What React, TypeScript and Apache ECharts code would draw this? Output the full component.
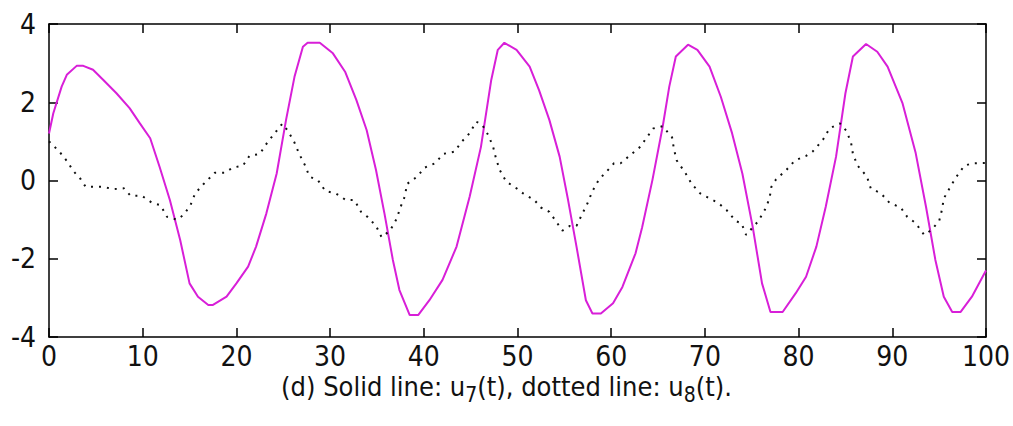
import React, { useEffect, useRef } from "react";
import * as echarts from "echarts";

const xTicks = [0, 10, 20, 30, 40, 50, 60, 70, 80, 90, 100];
const yTicks = [-4, -2, 0, 2, 4];

// u7(t): solid magenta line
const u7T = [0, 0.46, 1.35, 1.9, 2.95, 3.66, 4.7, 5.8, 7.2, 8.6, 9.7, 10.8, 11.8, 12.9, 14.0, 15.0, 15.9, 17.0, 17.5, 18.95, 20.0, 21.25, 22.1, 23.2, 24.3, 25.3, 26.2, 27.1, 27.6, 28.9, 30.3, 31.6, 32.8, 33.9, 34.9, 35.8, 36.7, 37.4, 38.5, 39.4, 40.6, 42.0, 43.5, 44.9, 46.1, 47.2, 47.9, 48.6, 49.9, 51.3, 52.3, 53.4, 54.5, 55.4, 56.3, 57.3, 58.0, 58.9, 60.2, 61.2, 62.6, 63.3, 64.4, 65.5, 66.2, 66.9, 68.2, 69.2, 70.5, 71.7, 72.9, 74.0, 75.1, 76.1, 77.0, 78.3, 79.7, 80.8, 81.9, 82.9, 84.0, 85.0, 85.8, 87.2, 88.4, 89.5, 91.1, 92.5, 93.6, 94.6, 95.5, 96.4, 97.3, 98.5, 100];
const u7V = [1.2, 1.72, 2.4, 2.7, 2.93, 2.93, 2.83, 2.57, 2.23, 1.85, 1.46, 1.08, 0.35, -0.5, -1.52, -2.63, -2.97, -3.18, -3.18, -2.97, -2.63, -2.2, -1.69, -0.84, 0.18, 1.55, 2.65, 3.42, 3.52, 3.52, 3.25, 2.78, 2.06, 1.29, 0.27, -0.84, -2.03, -2.8, -3.44, -3.44, -3.06, -2.54, -1.69, -0.41, 0.86, 2.57, 3.34, 3.52, 3.34, 2.91, 2.31, 1.55, 0.61, -0.5, -1.69, -3.06, -3.4, -3.4, -3.14, -2.72, -1.86, -1.2, 0.01, 1.38, 2.4, 3.17, 3.47, 3.34, 2.91, 2.14, 1.21, 0.18, -1.18, -2.63, -3.36, -3.36, -2.88, -2.46, -1.69, -0.67, 0.61, 2.23, 3.17, 3.49, 3.29, 2.91, 1.97, 0.7, -0.67, -2.03, -2.97, -3.36, -3.36, -2.97, -2.3];

// u8(t): dotted black line
const u8T = [0, 1.1, 2.1, 2.5, 3.4, 3.9, 5.7, 6.9, 8.0, 8.7, 9.9, 11.0, 11.9, 12.6, 13.7, 14.4, 15.1, 15.6, 16.5, 17.7, 18.8, 19.6, 20.7, 21.4, 22.5, 23.3, 24.1, 24.9, 25.5, 26.2, 26.7, 27.3, 27.8, 28.7, 29.5, 30.6, 31.7, 32.6, 33.3, 34.0, 34.9, 35.5, 36.4, 37.1, 37.5, 38.0, 38.2, 39.3, 40.1, 41.2, 42.1, 43.3, 44.0, 44.9, 45.6, 46.2, 46.9, 47.4, 47.7, 48.1, 48.8, 49.9, 50.6, 51.8, 52.5, 53.4, 54.1, 54.8, 55.6, 56.3, 56.9, 57.5, 58.0, 58.7, 59.4, 60.3, 61.0, 62.2, 63.1, 63.8, 64.5, 65.5, 66.5, 66.7, 67.0, 67.9, 68.6, 69.5, 70.5, 71.4, 72.3, 73.3, 73.9, 74.4, 75.7, 76.4, 76.9, 77.1, 77.6, 78.7, 79.6, 80.8, 81.5, 82.6, 83.3, 84.4, 85.1, 85.6, 85.8, 86.3, 87.3, 87.7, 88.8, 89.7, 90.9, 91.6, 92.5, 93.4, 94.1, 95.0, 95.3, 95.5, 96.2, 96.8, 97.7, 98.6, 100];
const u8V = [1.0, 0.74, 0.44, 0.27, 0.03, -0.16, -0.16, -0.22, -0.2, -0.39, -0.39, -0.57, -0.63, -0.93, -1.0, -0.87, -0.63, -0.33, -0.09, 0.2, 0.2, 0.33, 0.38, 0.63, 0.68, 0.97, 1.21, 1.45, 1.27, 0.97, 0.68, 0.4, 0.1, 0.01, -0.27, -0.33, -0.5, -0.5, -0.8, -0.93, -1.16, -1.45, -1.28, -0.98, -0.69, -0.39, -0.09, 0.1, 0.33, 0.44, 0.68, 0.74, 0.98, 1.21, 1.5, 1.44, 1.15, 0.86, 0.57, 0.27, -0.03, -0.2, -0.33, -0.5, -0.69, -0.8, -1.04, -1.28, -1.16, -1.16, -0.86, -0.57, -0.27, 0.03, 0.2, 0.44, 0.44, 0.68, 0.86, 1.1, 1.33, 1.39, 1.1, 0.8, 0.51, 0.2, -0.09, -0.33, -0.46, -0.57, -0.75, -1.04, -1.09, -1.39, -1.04, -0.75, -0.46, -0.16, 0.03, 0.27, 0.51, 0.63, 0.74, 1.04, 1.33, 1.46, 1.27, 0.97, 0.68, 0.38, 0.1, -0.2, -0.33, -0.57, -0.69, -0.93, -1.09, -1.39, -1.28, -1.04, -0.75, -0.46, -0.16, 0.08, 0.38, 0.44, 0.45];

const caption = "(d) Solid line: u{sub|7}(t), dotted line: u{sub|8}(t).";

const FONT = "'Liberation Sans Narrow', 'DejaVu Sans Condensed', 'Liberation Sans', sans-serif";

export default function App() {
  const ref = useRef<HTMLDivElement>(null);
  useEffect(() => {
    if (!ref.current) return;
    const chart = echarts.init(ref.current, null, { renderer: "svg" });
    const axisLine = { show: true, onZero: false, lineStyle: { color: "#000", width: 1.5 } };
    const axisTick = { show: true, inside: true, length: 9, lineStyle: { color: "#000", width: 1.5 } };
    const label = { color: "#111", fontFamily: FONT, fontSize: 28 };
    chart.setOption({
      animation: false,
      backgroundColor: "#fff",
      grid: { left: 49, right: 26, top: 24, bottom: 89, containLabel: false },
      xAxis: [
        {
          type: "value", min: 0, max: 100, interval: 10, position: "bottom",
          axisLine, axisTick, splitLine: { show: false },
          axisLabel: { ...label, margin: 5, formatter: (v: number) => (xTicks.includes(v) ? String(v) : "") },
        },
        {
          type: "value", min: 0, max: 100, interval: 10, position: "top",
          axisLine, axisTick, splitLine: { show: false }, axisLabel: { show: false },
        },
      ],
      yAxis: [
        {
          type: "value", min: -4, max: 4, interval: 2, position: "left",
          axisLine, axisTick, splitLine: { show: false },
          axisLabel: { ...label, margin: 13, formatter: (v: number) => (yTicks.includes(v) ? String(v) : "") },
        },
        {
          type: "value", min: -4, max: 4, interval: 2, position: "right",
          axisLine, axisTick, splitLine: { show: false }, axisLabel: { show: false },
        },
      ],
      series: [
        {
          name: "u7", type: "line", xAxisIndex: 0, yAxisIndex: 0,
          data: u7T.map((t, i) => [t, u7V[i]]),
          showSymbol: false, smooth: false,
          lineStyle: { color: "#d81fd8", width: 2 },
        },
        {
          name: "u8", type: "line", xAxisIndex: 0, yAxisIndex: 0,
          data: u8T.map((t, i) => [t, u8V[i]]),
          showSymbol: false, smooth: false,
          lineStyle: { color: "#111", width: 2, type: [2, 6] },
        },
      ],
      graphic: [
        {
          type: "text", left: "center", top: 373,
          style: {
            text: caption,
            fontFamily: FONT, fontSize: 27, fill: "#111",
            rich: {
              sub: { fontFamily: FONT, fontSize: 21, fill: "#111", padding: [17, 0, 0, 0] },
            },
          },
        },
      ],
    });
    return () => chart.dispose();
  }, []);
  return <div ref={ref} style={{ position: "absolute", left: 0, top: 0, width: 1013, height: 426, background: "#fff" }} />;
}
